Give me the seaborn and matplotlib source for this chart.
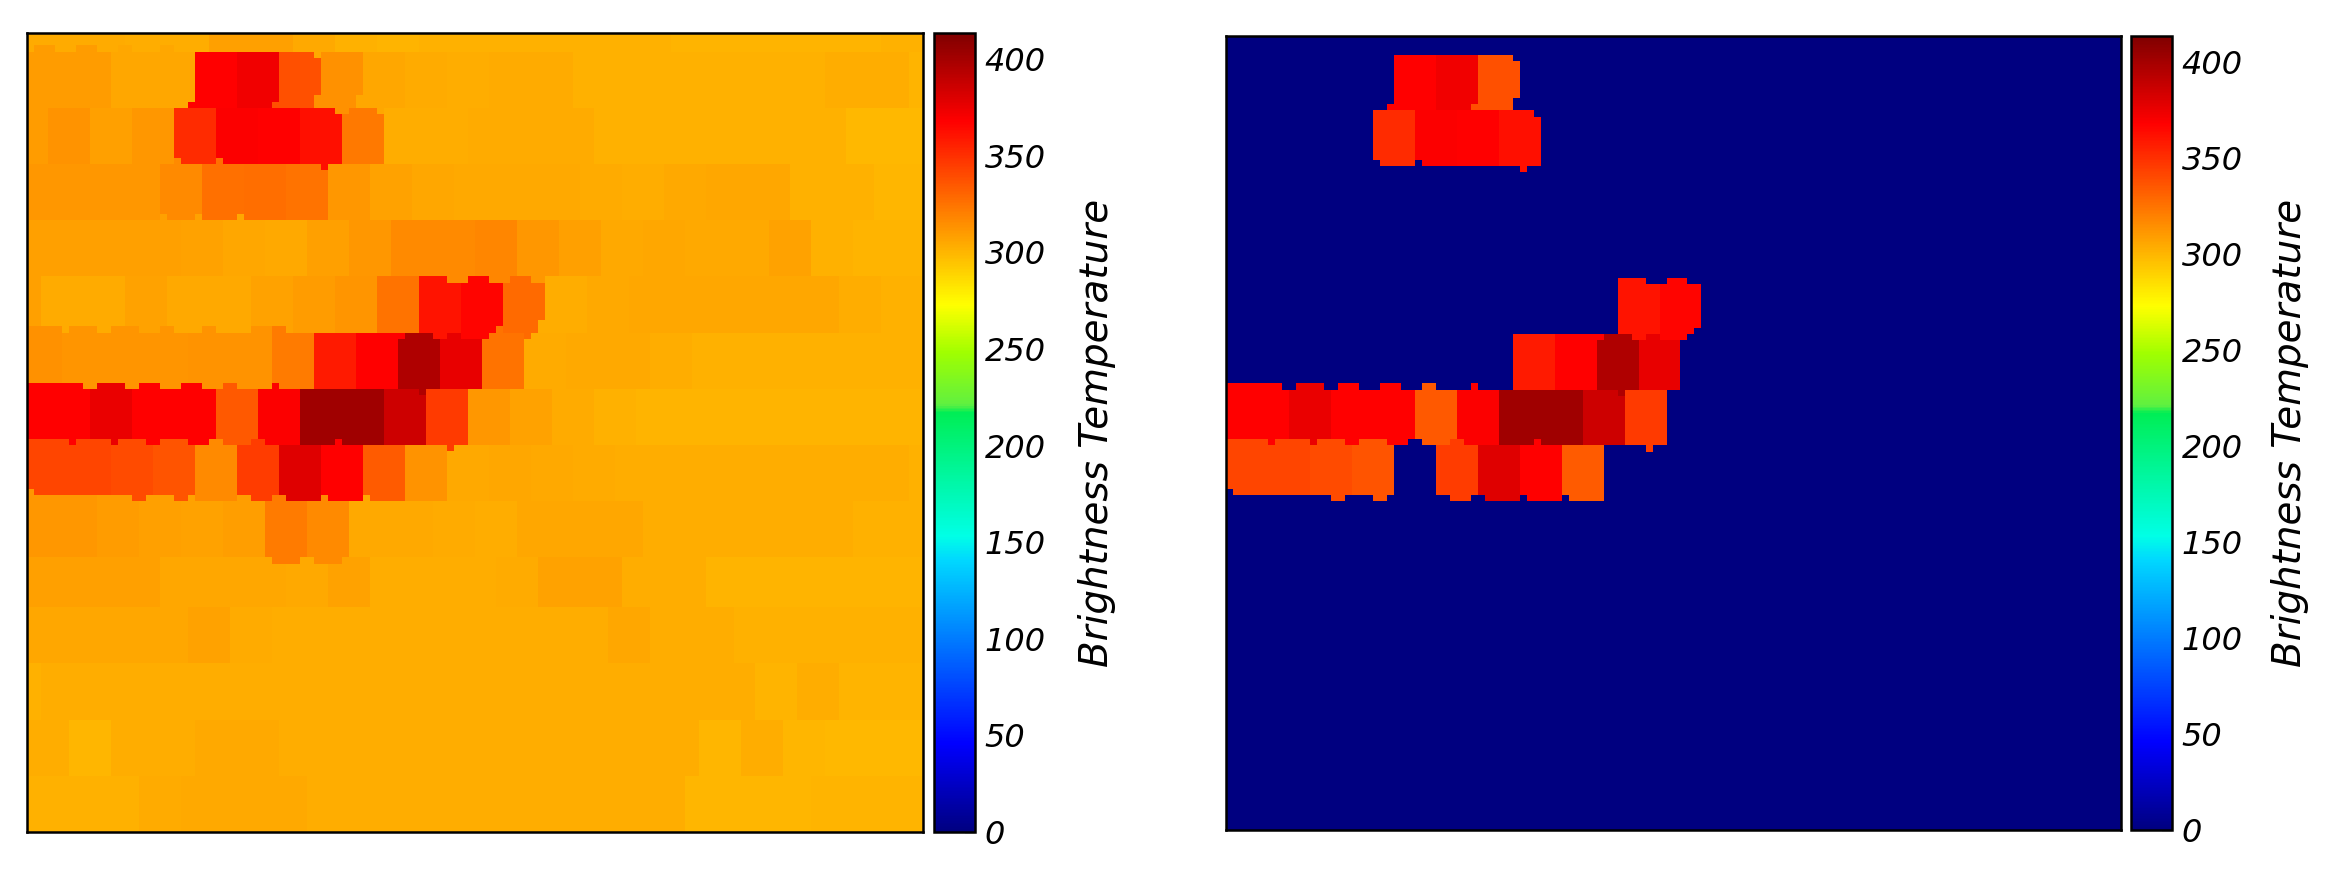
import numpy as np
import seaborn as sns
import matplotlib.pyplot as plt
from matplotlib.colors import LinearSegmentedColormap

sns.set_style("white")

# scan rows of the swath, values read block by block from the left panel
row_edges = [0, 3, 12, 21, 30, 39, 48, 57, 66, 75, 84, 92, 101, 110, 119, 128]
row_shifts = [2, 0, 3, 1, 4, 2, 5, 3, 0, 4, 1, 5, 2, 0, 4]

row00 = [304, 304, 304, 303, 303, 308, 308, 305, 302, 301, 302, 302, 302, 302, 302, 302, 301, 301, 301, 301, 301, 302, 302]
row01 = [310, 310, 306, 306, 368, 373, 338, 314, 306, 304, 303, 304, 304, 302, 302, 302, 302, 302, 302, 303, 303, 301]
row02 = [310, 313, 308, 311, 352, 369, 368, 362, 323, 303, 303, 304, 304, 304, 302, 302, 302, 302, 302, 302, 299, 299]
row03 = [311, 311, 311, 311, 316, 326, 327, 325, 311, 307, 306, 305, 305, 305, 304, 303, 305, 306, 306, 302, 302, 300]
row04 = [308, 308, 308, 308, 307, 306, 305, 308, 311, 316, 316, 318, 311, 308, 305, 306, 305, 305, 307, 302, 301, 301]
row05 = [308, 304, 304, 307, 305, 305, 307, 310, 312, 325, 361, 366, 328, 303, 305, 306, 306, 306, 306, 306, 303, 302]
row06 = [314, 312, 312, 312, 313, 313, 322, 358, 368, 396, 376, 325, 304, 305, 305, 303, 302, 302, 302, 302, 302, 302]
row07 = [368, 368, 375, 368, 368, 335, 369, 402, 402, 386, 346, 311, 307, 304, 302, 301, 301, 301, 301, 301, 301, 301]
row08 = [342, 342, 340, 336, 316, 345, 379, 368, 334, 313, 305, 306, 305, 304, 303, 303, 303, 303, 303, 303, 303, 302]
row09 = [311, 311, 310, 308, 307, 309, 322, 316, 305, 305, 304, 303, 306, 306, 306, 303, 303, 303, 303, 303, 302, 302]
row10 = [308, 308, 308, 308, 306, 306, 306, 305, 307, 303, 303, 303, 304, 307, 307, 303, 303, 301, 301, 301, 301, 301]
row11 = [306, 306, 306, 306, 307, 304, 303, 303, 303, 303, 303, 303, 303, 303, 306, 303, 303, 302, 302, 302, 302, 302]
row12 = [302, 303, 303, 303, 303, 303, 303, 303, 303, 303, 303, 303, 303, 303, 303, 303, 303, 303, 301, 303, 301, 301]
row13 = [303, 300, 303, 303, 305, 305, 303, 303, 303, 303, 303, 303, 303, 303, 303, 303, 300, 303, 300, 299, 299, 299]
row14 = [302, 302, 302, 304, 305, 305, 305, 303, 303, 303, 303, 303, 303, 303, 303, 303, 300, 300, 300, 301, 301, 301]
rows = [row00, row01, row02, row03, row04, row05, row06, row07, row08, row09, row10, row11, row12, row13, row14]

# jagged cells where one scan row bleeds over its neighbour: row0,row1,col0,col1, then take from dr,dc
notches = [
    (3, 4, 41, 42, -1, 0), (10, 12, 41, 42, 0, 1), (11, 12, 23, 24, 0, 1), (11, 12, 35, 36, 0, 1),
    (10, 12, 47, 48, 0, 1), (12, 13, 44, 46, -1, 0), (12, 13, 50, 51, -1, 0),
    (20, 21, 21, 22, 1, 0), (20, 21, 27, 28, 1, 0), (21, 22, 42, 43, -1, 0),
    (2, 3, 1, 4, 1, 0), (2, 3, 7, 10, 1, 0), (2, 3, 13, 15, 1, 0), (2, 3, 19, 21, 1, 0),
    (29, 30, 19, 20, 1, 0), (29, 30, 24, 25, 1, 0), (29, 30, 30, 31, 1, 0),
    (39, 40, 60, 63, -1, 0), (39, 40, 66, 69, -1, 0), (39, 40, 72, 74, -1, 0),
    (47, 48, 67, 68, 1, 0), (48, 49, 58, 60, -1, 0), (48, 49, 62, 66, -1, 0),
    (48, 49, 53, 54, 0, -1), (46, 48, 73, 74, 0, 1), (48, 49, 71, 72, -1, 0),
    (47, 48, 0, 5, 1, 0), (47, 48, 6, 10, 1, 0), (47, 48, 12, 16, 1, 0), (47, 48, 19, 21, 1, 0),
    (47, 48, 25, 27, 1, 0), (47, 48, 32, 37, 1, 0),
    (57, 58, 56, 57, -1, 0),
    (56, 57, 0, 8, 1, 0), (56, 57, 10, 14, 1, 0), (56, 57, 16, 19, 1, 0), (56, 57, 22, 25, 1, 0),
    (56, 57, 28, 30, 1, 0), (56, 57, 35, 36, 1, 0),
    (65, 66, 0, 6, 1, 0), (65, 66, 7, 12, 1, 0), (65, 66, 13, 17, 1, 0), (65, 66, 19, 23, 1, 0),
    (65, 66, 26, 28, 1, 0), (65, 66, 32, 34, 1, 0), (65, 66, 44, 45, 1, 0), (66, 67, 60, 61, -1, 0),
    (74, 75, 0, 15, 1, 0), (74, 75, 17, 21, 1, 0), (74, 75, 23, 24, 1, 0), (74, 75, 30, 32, 1, 0),
    (74, 75, 35, 37, 1, 0), (74, 75, 42, 43, 1, 0), (74, 75, 48, 49, 1, 0), (73, 74, 0, 1, 2, 0),
    (84, 85, 35, 39, -1, 0), (84, 85, 41, 45, -1, 0),
]

hot_threshold = 331   # right panel keeps only the hot blocks
ticks = [0, 50, 100, 150, 200, 250, 300, 350, 400]
vmax = 413.5
label = "Brightness Temperature"

# jet-like map with the kink in the green that the original bar has
cmap = LinearSegmentedColormap.from_list("bt", [
    (0.0, "#000080"), (0.11, "#0000ff"), (0.34, "#00d8ff"), (0.37, "#00ffe6"),
    (0.525, "#00ee55"), (0.535, "#60f040"), (0.60, "#a0ff00"), (0.64, "#e0ff00"), (0.66, "#ffff00"),
    (0.89, "#ff0000"), (1.0, "#800000")], N=512)

# build the 128x128 image from the scan rows
n = 128
left = np.zeros((n, n))
for i, vals in enumerate(rows):
    s = row_shifts[i]
    sizes = [s] * (s > 0) + [6] * (len(vals) - (s > 0))
    line = np.repeat(vals, sizes)
    line = np.append(line, [vals[-1]] * n)[:n]
    left[row_edges[i]:row_edges[i + 1], :] = line
base = left.copy()
for r0, r1, c0, c1, dr, dc in notches:
    left[r0:r1, c0:c1] = base[r0 + dr:r1 + dr, c0 + dc:c1 + dc]
right = np.where(left >= hot_threshold, left, 0)

W, H = 2334, 876
fig = plt.figure(figsize=(W / 100, H / 100), dpi=100)


def box(x0, x1, y0, y1):
    return [x0 / W, 1 - y1 / H, (x1 - x0) / W, (y1 - y0) / H]


panels = [
    (left, box(27, 923, 33, 832), box(934, 975, 33, 832), 23),
    (right, box(1226, 2121, 36, 830), box(2131, 2172, 36, 830), 20),
]
for data, main_box, bar_box, pad in panels:
    ax = fig.add_axes(main_box)
    cax = fig.add_axes(bar_box)
    sns.heatmap(data, ax=ax, cbar_ax=cax, cmap=cmap, vmin=0, vmax=vmax,
                xticklabels=False, yticklabels=False, cbar_kws={"ticks": ticks})
    for sp in ax.spines.values():
        sp.set_visible(True)
        sp.set_color("black")
        sp.set_linewidth(1.8)
    cb = ax.collections[0].colorbar
    cb.outline.set_visible(True)
    cb.outline.set_edgecolor("black")
    cb.outline.set_linewidth(1.8)
    cax.tick_params(direction="in", length=7, width=1.6, color="black", pad=7, right=True,
                    labelsize=23, labelcolor="black")
    for t in cax.get_yticklabels():
        t.set_fontstyle("italic")
    cb.set_label(label, fontsize=28, fontstyle="italic", color="black", labelpad=pad)

plt.savefig("out.png", dpi=100)
